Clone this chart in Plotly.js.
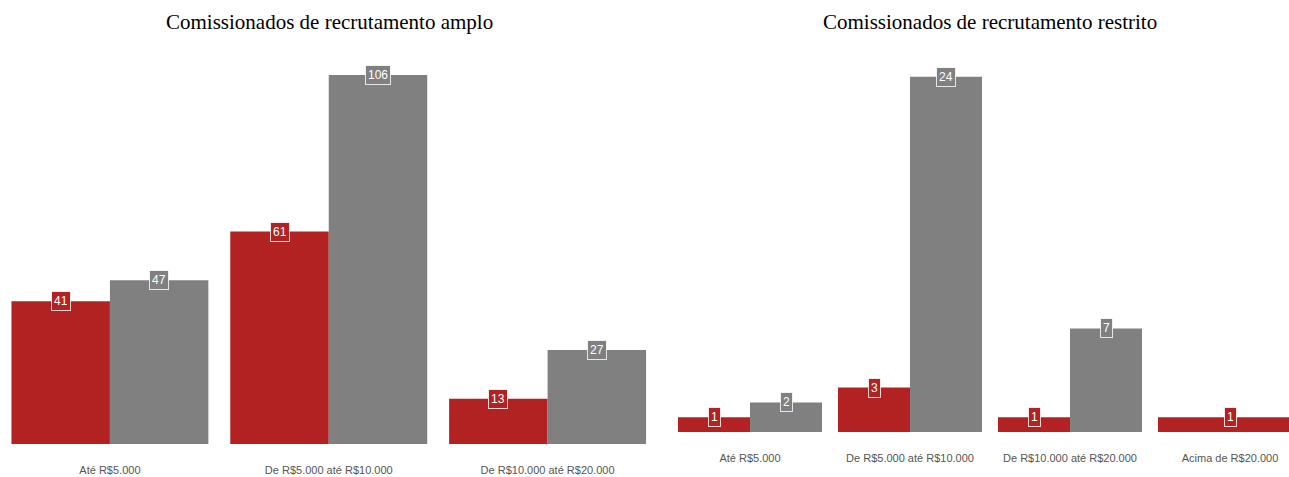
<!DOCTYPE html>
<html>
<head>
<meta charset="utf-8">
<script src="https://cdn.plot.ly/plotly-3.0.1.min.js"></script>
<style>html,body{margin:0;padding:0;background:#fff;}#chart{width:1289px;height:477px;}</style>
</head>
<body>
<div id="chart"></div>
<script>
// ---- Data ----
const titleAmplo = "Comissionados de recrutamento amplo";
const titleRestrito = "Comissionados de recrutamento restrito";
const categoriesAmplo = ["Até R$5.000", "De R$5.000 até R$10.000", "De R$10.000 até R$20.000"];
const amploSerieA = [41, 61, 13];
const amploSerieB = [47, 106, 27];
const categoriesRestrito = ["Até R$5.000", "De R$5.000 até R$10.000", "De R$10.000 até R$20.000", "Acima de R$20.000"];
const restritoSerieA = [1, 3, 1, 1];
const restritoSerieB = [2, 24, 7, null];

// ---- Styles ----
const RED = "#B22222";
const GRAY = "#808080";
const GROUP = 0.9;
const HALF = GROUP / 2;

function buildPanel(cats, a, b, xa, ya) {
  const widthsA = a.map((v, i) => (b[i] == null ? GROUP : HALF));
  const offsA = a.map(() => -HALF);
  const widthsB = b.map(() => HALF);
  const offsB = b.map(() => 0);
  const traces = [
    {type: "bar", x: cats, y: a, width: widthsA, offset: offsA, marker: {color: RED, line: {width: 0}},
     xaxis: xa, yaxis: ya, name: "A", hoverinfo: "x+y", showlegend: false},
    {type: "bar", x: cats, y: b, width: widthsB, offset: offsB, marker: {color: GRAY, line: {width: 0}},
     xaxis: xa, yaxis: ya, name: "B", hoverinfo: "x+y", showlegend: false}
  ];
  const labelFont = {color: "#fff", size: 12, family: "Liberation Sans, Arial, sans-serif"};
  const anns = [];
  a.forEach((v, i) => {
    if (v == null) return;
    anns.push({x: i + offsA[i] + widthsA[i] / 2, y: v, xref: xa, yref: ya, text: String(v), showarrow: false,
      font: labelFont, bgcolor: RED, bordercolor: "rgba(255,255,255,0.8)", borderwidth: 1, borderpad: 2});
  });
  b.forEach((v, i) => {
    if (v == null) return;
    anns.push({x: i + offsB[i] + widthsB[i] / 2, y: v, xref: xa, yref: ya, text: String(v), showarrow: false,
      font: labelFont, bgcolor: GRAY, bordercolor: "rgba(255,255,255,0.8)", borderwidth: 1, borderpad: 2});
  });
  return {traces, anns};
}

const left = buildPanel(categoriesAmplo, amploSerieA, amploSerieB, "x", "y");
const right = buildPanel(categoriesRestrito, restritoSerieA, restritoSerieB, "x2", "y2");

const H = 477, W = 1289;
const axisX = {
  type: "category", showgrid: false, zeroline: false, showline: false,
  ticks: "outside", ticklen: 16, tickcolor: "rgba(0,0,0,0)",
  tickfont: {size: 11, color: "#555", family: "Liberation Sans, Arial, sans-serif"},
  fixedrange: true
};
const axisY = {showgrid: false, zeroline: false, showline: false, showticklabels: false, ticks: "", fixedrange: true};

const titleFont = {size: 21, color: "#000", family: "Liberation Serif, Times New Roman, serif"};

const layout = {
  width: W, height: H,
  margin: {l: 0, r: 0, t: 0, b: 0},
  paper_bgcolor: "#fff", plot_bgcolor: "#fff",
  barmode: "overlay",
  showlegend: false,
  xaxis: Object.assign({}, axisX, {domain: [0.5 / W, 657 / W], range: [-0.5, 2.5], anchor: "y"}),
  yaxis: Object.assign({}, axisY, {domain: [(H - 444) / H, (H - 61) / H], range: [0, 110], anchor: "x"}),
  xaxis2: Object.assign({}, axisX, {domain: [670 / W, 1], range: [-0.5, -0.5 + 619 / 160], anchor: "y2"}),
  yaxis2: Object.assign({}, axisY, {domain: [(H - 432) / H, (H - 62) / H], range: [0, 25], anchor: "x2"}),
  annotations: left.anns.concat(right.anns).concat([
    {text: titleAmplo, xref: "paper", yref: "paper", x: 329 / W, y: (H - 22) / H, showarrow: false,
     xanchor: "center", yanchor: "middle", font: titleFont},
    {text: titleRestrito, xref: "paper", yref: "paper", x: 990 / W, y: (H - 22) / H, showarrow: false,
     xanchor: "center", yanchor: "middle", font: titleFont}
  ])
};

Plotly.newPlot("chart", left.traces.concat(right.traces), layout, {displayModeBar: false, staticPlot: true});
</script>
</body>
</html>
